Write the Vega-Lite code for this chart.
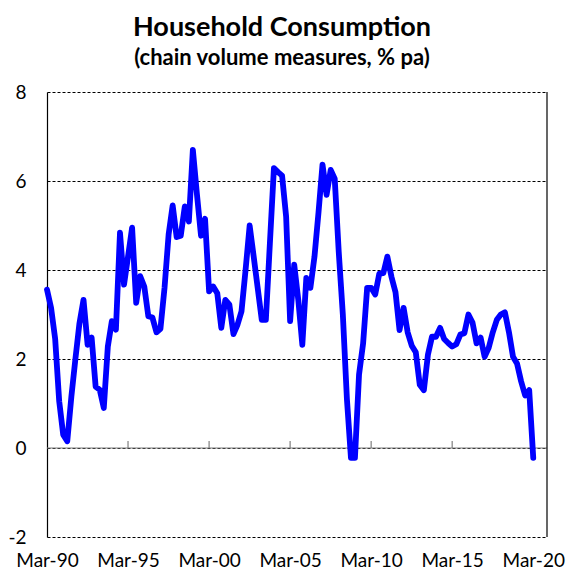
{
  "$schema": "https://vega.github.io/schema/vega-lite/v6.json",
  "width": 500,
  "height": 445,
  "autosize": {"type": "none"},
  "padding": {"left": 47, "top": 92, "right": 21, "bottom": 37},
  "background": "white",
  "title": {
    "text": "Household Consumption",
    "subtitle": "(chain volume measures, % pa)",
    "font": "Lato",
    "fontSize": 27,
    "fontWeight": "bold",
    "color": "black",
    "subtitleFont": "Lato",
    "subtitleFontSize": 22,
    "subtitleFontWeight": "bold",
    "subtitleColor": "black",
    "subtitlePadding": 6,
    "anchor": "middle",
    "dx": -15,
    "offset": 13
  },
  "config": {
    "view": {"stroke": null},
    "axis": {"labelFont": "Lato", "labelFontSize": 19, "labelColor": "black"}
  },
  "layer": [
    {
      "data": {"values": [{"k": 0}]},
      "mark": {"type": "rule", "color": "#7f7f7f", "strokeWidth": 1.2},
      "encoding": {
        "y": {"datum": 0, "type": "quantitative"}
      }
    },
    {
      "data": {"values": [{"k": 0}]},
      "mark": {"type": "rule", "color": "black", "strokeWidth": 1.2},
      "encoding": {
        "x": {"datum": {"year": 2021, "month": 1, "date": 5, "utc": true}, "type": "temporal"}
      }
    },
    {
      "data": {"values": [
        {"quarter": "1995-03-01"}, {"quarter": "2000-03-01"}, {"quarter": "2005-03-01"},
        {"quarter": "2010-03-01"}, {"quarter": "2015-03-01"}, {"quarter": "2020-03-01"}
      ]},
      "mark": {"type": "rule", "color": "#7f7f7f", "strokeWidth": 1.2},
      "encoding": {
        "x": {"field": "quarter", "type": "temporal"},
        "y": {"datum": 0, "type": "quantitative"},
        "y2": {"datum": 0.16}
      }
    },
    {
      "data": {"values": [
        {"quarter": "1990-03-01", "value": 3.56}, {"quarter": "1990-06-01", "value": 3.15}, {"quarter": "1990-09-01", "value": 2.45}, {"quarter": "1990-12-01", "value": 1.05},
        {"quarter": "1991-03-01", "value": 0.3}, {"quarter": "1991-06-01", "value": 0.15}, {"quarter": "1991-09-01", "value": 1.15}, {"quarter": "1991-12-01", "value": 2.0},
        {"quarter": "1992-03-01", "value": 2.8}, {"quarter": "1992-06-01", "value": 3.33}, {"quarter": "1992-09-01", "value": 2.32}, {"quarter": "1992-12-01", "value": 2.48},
        {"quarter": "1993-03-01", "value": 1.38}, {"quarter": "1993-06-01", "value": 1.31}, {"quarter": "1993-09-01", "value": 0.9}, {"quarter": "1993-12-01", "value": 2.28},
        {"quarter": "1994-03-01", "value": 2.85}, {"quarter": "1994-06-01", "value": 2.66}, {"quarter": "1994-09-01", "value": 4.84}, {"quarter": "1994-12-01", "value": 3.67},
        {"quarter": "1995-03-01", "value": 4.3}, {"quarter": "1995-06-01", "value": 4.95}, {"quarter": "1995-09-01", "value": 3.26}, {"quarter": "1995-12-01", "value": 3.86},
        {"quarter": "1996-03-01", "value": 3.63}, {"quarter": "1996-06-01", "value": 2.96}, {"quarter": "1996-09-01", "value": 2.93}, {"quarter": "1996-12-01", "value": 2.6},
        {"quarter": "1997-03-01", "value": 2.68}, {"quarter": "1997-06-01", "value": 3.6}, {"quarter": "1997-09-01", "value": 4.8}, {"quarter": "1997-12-01", "value": 5.45},
        {"quarter": "1998-03-01", "value": 4.74}, {"quarter": "1998-06-01", "value": 4.77}, {"quarter": "1998-09-01", "value": 5.43}, {"quarter": "1998-12-01", "value": 5.09},
        {"quarter": "1999-03-01", "value": 6.7}, {"quarter": "1999-06-01", "value": 5.7}, {"quarter": "1999-09-01", "value": 4.77}, {"quarter": "1999-12-01", "value": 5.15},
        {"quarter": "2000-03-01", "value": 3.52}, {"quarter": "2000-06-01", "value": 3.63}, {"quarter": "2000-09-01", "value": 3.48}, {"quarter": "2000-12-01", "value": 2.7},
        {"quarter": "2001-03-01", "value": 3.33}, {"quarter": "2001-06-01", "value": 3.22}, {"quarter": "2001-09-01", "value": 2.56}, {"quarter": "2001-12-01", "value": 2.77},
        {"quarter": "2002-03-01", "value": 3.07}, {"quarter": "2002-06-01", "value": 4.0}, {"quarter": "2002-09-01", "value": 5.0}, {"quarter": "2002-12-01", "value": 4.3},
        {"quarter": "2003-03-01", "value": 3.6}, {"quarter": "2003-06-01", "value": 2.88}, {"quarter": "2003-09-01", "value": 2.88}, {"quarter": "2003-12-01", "value": 4.6},
        {"quarter": "2004-03-01", "value": 6.29}, {"quarter": "2004-06-01", "value": 6.2}, {"quarter": "2004-09-01", "value": 6.12}, {"quarter": "2004-12-01", "value": 5.2},
        {"quarter": "2005-03-01", "value": 2.85}, {"quarter": "2005-06-01", "value": 4.12}, {"quarter": "2005-09-01", "value": 3.33}, {"quarter": "2005-12-01", "value": 2.32},
        {"quarter": "2006-03-01", "value": 3.82}, {"quarter": "2006-06-01", "value": 3.6}, {"quarter": "2006-09-01", "value": 4.3}, {"quarter": "2006-12-01", "value": 5.3},
        {"quarter": "2007-03-01", "value": 6.37}, {"quarter": "2007-06-01", "value": 5.69}, {"quarter": "2007-09-01", "value": 6.25}, {"quarter": "2007-12-01", "value": 6.05},
        {"quarter": "2008-03-01", "value": 4.4}, {"quarter": "2008-06-01", "value": 3.0}, {"quarter": "2008-09-01", "value": 1.1}, {"quarter": "2008-12-01", "value": -0.22},
        {"quarter": "2009-03-01", "value": -0.22}, {"quarter": "2009-06-01", "value": 1.65}, {"quarter": "2009-09-01", "value": 2.35}, {"quarter": "2009-12-01", "value": 3.6},
        {"quarter": "2010-03-01", "value": 3.6}, {"quarter": "2010-06-01", "value": 3.45}, {"quarter": "2010-09-01", "value": 3.92}, {"quarter": "2010-12-01", "value": 3.93},
        {"quarter": "2011-03-01", "value": 4.3}, {"quarter": "2011-06-01", "value": 3.85}, {"quarter": "2011-09-01", "value": 3.5}, {"quarter": "2011-12-01", "value": 2.65},
        {"quarter": "2012-03-01", "value": 3.15}, {"quarter": "2012-06-01", "value": 2.6}, {"quarter": "2012-09-01", "value": 2.3}, {"quarter": "2012-12-01", "value": 2.15},
        {"quarter": "2013-03-01", "value": 1.42}, {"quarter": "2013-06-01", "value": 1.3}, {"quarter": "2013-09-01", "value": 2.1}, {"quarter": "2013-12-01", "value": 2.5},
        {"quarter": "2014-03-01", "value": 2.5}, {"quarter": "2014-06-01", "value": 2.7}, {"quarter": "2014-09-01", "value": 2.45}, {"quarter": "2014-12-01", "value": 2.36},
        {"quarter": "2015-03-01", "value": 2.28}, {"quarter": "2015-06-01", "value": 2.33}, {"quarter": "2015-09-01", "value": 2.55}, {"quarter": "2015-12-01", "value": 2.58},
        {"quarter": "2016-03-01", "value": 3.0}, {"quarter": "2016-06-01", "value": 2.82}, {"quarter": "2016-09-01", "value": 2.35}, {"quarter": "2016-12-01", "value": 2.48},
        {"quarter": "2017-03-01", "value": 2.05}, {"quarter": "2017-06-01", "value": 2.25}, {"quarter": "2017-09-01", "value": 2.6}, {"quarter": "2017-12-01", "value": 2.88},
        {"quarter": "2018-03-01", "value": 3.0}, {"quarter": "2018-06-01", "value": 3.05}, {"quarter": "2018-09-01", "value": 2.6}, {"quarter": "2018-12-01", "value": 2.05},
        {"quarter": "2019-03-01", "value": 1.9}, {"quarter": "2019-06-01", "value": 1.5}, {"quarter": "2019-09-01", "value": 1.18}, {"quarter": "2019-12-01", "value": 1.3},
        {"quarter": "2020-03-01", "value": -0.22}
      ]},
      "mark": {"type": "line", "color": "#0000FF", "strokeWidth": 5.8, "strokeJoin": "round", "strokeCap": "round"},
      "encoding": {
        "x": {
          "field": "quarter",
          "type": "temporal",
          "scale": {"type": "utc", "domain": [{"year": 1990, "month": 3, "date": 1, "utc": true}, {"year": 2021, "month": 1, "date": 5, "utc": true}]},
          "axis": {
            "title": null,
            "values": [
              {"year": 1990, "month": 3, "date": 1, "utc": true}, {"year": 1995, "month": 3, "date": 1, "utc": true},
              {"year": 2000, "month": 3, "date": 1, "utc": true}, {"year": 2005, "month": 3, "date": 1, "utc": true},
              {"year": 2010, "month": 3, "date": 1, "utc": true}, {"year": 2015, "month": 3, "date": 1, "utc": true},
              {"year": 2020, "month": 3, "date": 1, "utc": true}
            ],
            "labelExpr": "utcFormat(datum.value, '%b-%y')",
            "ticks": false,
            "domain": false,
            "grid": false,
            "labelPadding": 14,
            "labelFlush": false,
            "labelOverlap": false
          }
        },
        "y": {
          "field": "value",
          "type": "quantitative",
          "scale": {"domain": [-2, 8], "nice": false, "zero": false},
          "axis": {
            "title": null,
            "values": [-2, 0, 2, 4, 6, 8],
            "labelExpr": "datum.value < 0 ? '-' + abs(datum.value) : '' + datum.value",
            "ticks": false,
            "domain": true,
            "domainColor": "black",
            "domainWidth": 1.2,
            "grid": true,
            "gridColor": "black",
            "gridDash": [3, 2],
            "gridWidth": 1,
            "labelPadding": 21
          }
        }
      }
    }
  ]
}
